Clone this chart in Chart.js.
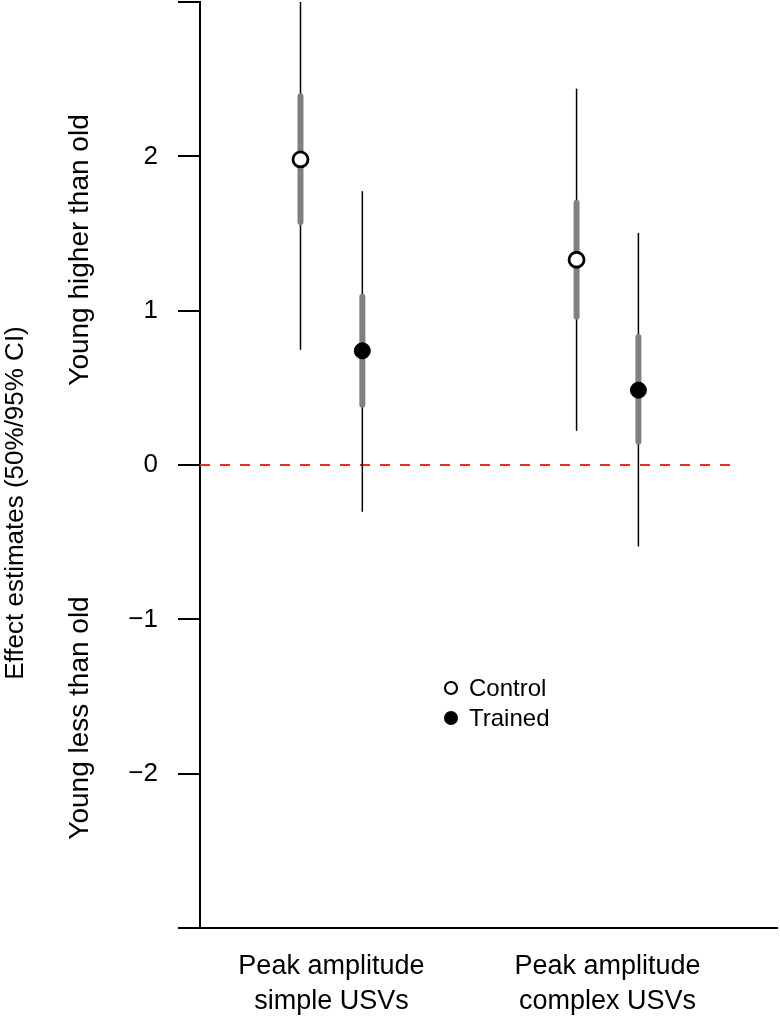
<!DOCTYPE html>
<html>
<head>
<meta charset="utf-8">
<script src="https://cdn.jsdelivr.net/npm/chart.js@4/dist/chart.umd.min.js"></script>
<style>
  html, body { margin: 0; padding: 0; background: #fff; }
  #wrap { width: 780px; height: 1020px; }
</style>
</head>
<body>
<div id="wrap"><canvas id="chart" width="780" height="1020"></canvas></div>
<script>
var groups = [["Peak amplitude", "simple USVs"], ["Peak amplitude", "complex USVs"]];
var groupPos = [1, 2];
var shift = 0.112;

// control
var ctrlEst = [1.98, 1.33];
var ctrlLo50 = [1.575, 0.96];
var ctrlHi50 = [2.39, 1.70];
var ctrlLo95 = [0.75, 0.225];
var ctrlHi95 = [3.0, 2.435];

// trained
var trnEst = [0.74, 0.485];
var trnLo50 = [0.39, 0.15];
var trnHi50 = [1.09, 0.83];
var trnLo95 = [-0.30, -0.525];
var trnHi95 = [1.77, 1.50];

var yTicks = [-3, -2, -1, 0, 1, 2, 3];
var font = '"Liberation Sans", Arial, sans-serif';

var datasets = [];

function addIntervals(lo, hi, off, color, width, ord) {
  for (var i = 0; i < groupPos.length; i++) {
    datasets.push({
      type: "line",
      data: [{x: groupPos[i] + off, y: lo[i]}, {x: groupPos[i] + off, y: hi[i]}],
      borderColor: color,
      borderWidth: width,
      borderCapStyle: "round",
      pointRadius: 0,
      order: ord
    });
  }
}

// points
datasets.push({
  type: "scatter",
  label: "Control",
  data: ctrlEst.map(function(v, i){ return {x: groupPos[i] - shift, y: v}; }),
  backgroundColor: "#ffffff",
  borderColor: "#000000",
  borderWidth: 2.8,
  pointRadius: 7.5,
  order: 0
});
datasets.push({
  type: "scatter",
  label: "Trained",
  data: trnEst.map(function(v, i){ return {x: groupPos[i] + shift, y: v}; }),
  backgroundColor: "#000000",
  borderColor: "#000000",
  borderWidth: 1,
  pointRadius: 8,
  order: 0
});

addIntervals(ctrlLo50, ctrlHi50, -shift, "#808080", 6, 1);
addIntervals(trnLo50, trnHi50, shift, "#808080", 6, 1);
addIntervals(ctrlLo95, ctrlHi95, -shift, "#000000", 1.5, 2);
addIntervals(trnLo95, trnHi95, shift, "#000000", 1.5, 2);

// zero reference line
datasets.push({
  type: "line",
  data: [{x: 0.524, y: 0}, {x: 2.48, y: 0}],
  borderColor: "#ee2a24",
  borderWidth: 2,
  borderDash: [10, 10],
  pointRadius: 0,
  order: 3
});

var extraText = {
  id: "extraText",
  afterDraw: function(chart) {
    var ctx = chart.ctx;
    ctx.save();
    ctx.fillStyle = "#000";
    ctx.textAlign = "center";
    ctx.textBaseline = "middle";
    var rot = function(txt, x, y, size) {
      ctx.save();
      ctx.font = size + "px " + font;
      ctx.translate(x, y);
      ctx.rotate(-Math.PI / 2);
      ctx.fillText(txt, 0, 0);
      ctx.restore();
    };
    rot("Effect estimates (50%/95% CI)", 16, 503, 26);
    rot("Young higher than old", 80, 250, 28);
    rot("Young less than old", 80, 718, 28);

    // legend
    ctx.textAlign = "left";
    ctx.font = "24px " + font;
    ctx.beginPath();
    ctx.arc(451, 688, 6, 0, Math.PI * 2);
    ctx.fillStyle = "#fff";
    ctx.fill();
    ctx.lineWidth = 2.2;
    ctx.strokeStyle = "#000";
    ctx.stroke();
    ctx.beginPath();
    ctx.arc(451, 718, 7, 0, Math.PI * 2);
    ctx.fillStyle = "#000";
    ctx.fill();
    ctx.fillText("Control", 469, 689);
    ctx.fillText("Trained", 469, 719);
    ctx.restore();
  }
};

new Chart(document.getElementById("chart").getContext("2d"), {
  type: "scatter",
  data: { datasets: datasets },
  options: {
    responsive: false,
    animation: false,
    layout: { autoPadding: false, padding: { top: 2, right: 3, left: 0, bottom: 0 } },
    plugins: { legend: { display: false }, tooltip: { enabled: false } },
    scales: {
      x: {
        type: "linear",
        min: 0.524,
        max: 2.614,
        afterBuildTicks: function(scale) {
          scale.ticks = groupPos.map(function(v){ return {value: v}; });
        },
        afterFit: function(scale) {
          scale.height = 92;
          scale.paddingLeft = 0;
          scale.paddingRight = 0;
        },
        ticks: {
          autoSkip: false,
          maxRotation: 0,
          padding: 21,
          color: "#000",
          font: { family: font, size: 27, lineHeight: 1.3 },
          callback: function(v) {
            var i = groupPos.indexOf(v);
            return i >= 0 ? groups[i] : "";
          }
        },
        grid: { display: false, drawTicks: false },
        border: { display: true, color: "#000", width: 2 }
      },
      y: {
        type: "linear",
        min: -3,
        max: 3,
        afterBuildTicks: function(scale) {
          scale.ticks = yTicks.map(function(v){ return {value: v}; });
        },
        afterFit: function(scale) {
          scale.width = 200;
          scale.paddingTop = 0;
          scale.paddingBottom = 0;
        },
        ticks: {
          padding: 20,
          color: "#000",
          font: { family: font, size: 26 },
          callback: function(v) {
            if (v === -3 || v === 3) return "";
            return v < 0 ? "\u2212" + Math.abs(v) : String(v);
          }
        },
        grid: { drawOnChartArea: false, drawTicks: true, tickLength: 22, color: "#000", lineWidth: 2 },
        border: { display: true, color: "#000", width: 2 }
      }
    }
  },
  plugins: [extraText]
});
</script>
</body>
</html>
